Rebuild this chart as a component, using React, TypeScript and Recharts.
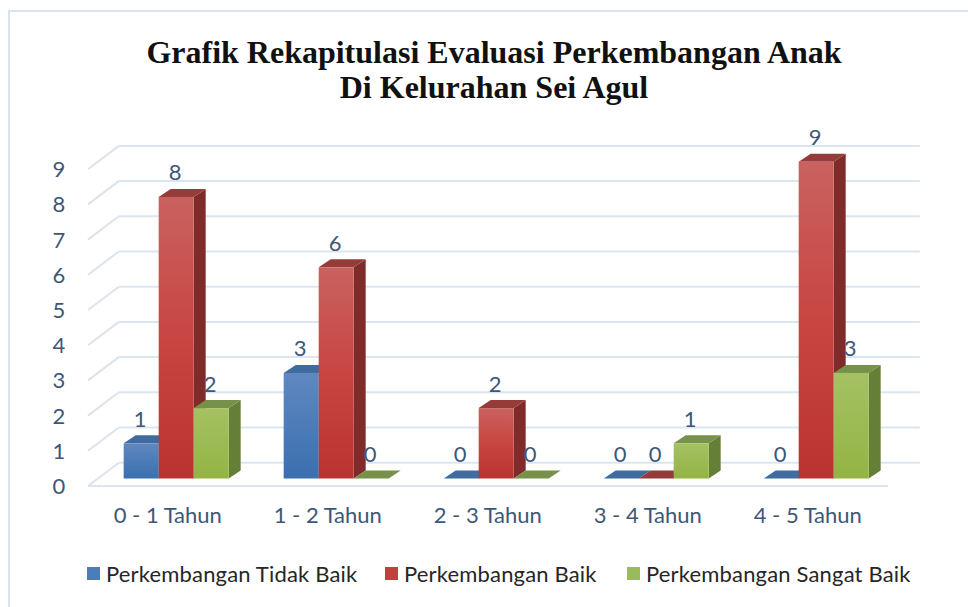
import { BarChart, Bar, XAxis, YAxis, CartesianGrid, LabelList, Legend } from 'recharts';

const categories = ['0 - 1 Tahun', '1 - 2 Tahun', '2 - 3 Tahun', '3 - 4 Tahun', '4 - 5 Tahun'];
const tidakBaik = [1, 3, 0, 0, 0];
const baik = [8, 6, 2, 0, 9];
const sangatBaik = [2, 0, 0, 1, 3];
const yTicks = [0, 1, 2, 3, 4, 5, 6, 7, 8, 9];

const data = categories.map((name, i) => ({
  name,
  tidakBaik: tidakBaik[i],
  baik: baik[i],
  sangatBaik: sangatBaik[i],
}));

const FONT = 'Lato, sans-serif';
const TEXT = '#3c5878';
const GRID = '#dce6f1';
const DX = 12;
const DY = 8;

const paint = {
  blue: { top: '#406b9e', side: '#355c8a', from: '#6088c0', to: '#3a6fb0', legend: '#4a7ebb' },
  red: { top: '#953c3a', side: '#7f2b2a', from: '#c9625f', to: '#b93431', legend: '#c0403d' },
  green: { top: '#76914a', side: '#667f36', from: '#a5c163', to: '#93b443', legend: '#9bbb59' },
};

// front face + top + side, so the bars read as a 3d column
const box3d = (c: typeof paint.blue, id: string) => (props: any) => {
  const { x, y, width, height } = props;
  const r = x + width;
  const b = y + height;
  return (
    <g>
      <polygon points={`${r},${y} ${r + DX},${y - DY} ${r + DX},${b - DY} ${r},${b}`} fill={c.side} />
      <polygon points={`${x},${y} ${x + DX},${y - DY} ${r + DX},${y - DY} ${r},${y}`} fill={c.top} />
      {height > 0 && <rect x={x} y={y} width={width} height={height} fill={`url(#${id})`} />}
    </g>
  );
};

const gridLine = (props: any) => {
  const { x1, x2, y1, index } = props;
  return (
    <g key={`g-${index}`}>
      <line x1={x1 - 8.8} y1={y1 + 7.5} x2={x1 + 22} y2={y1 - 15.8} stroke="#dde3ea" strokeWidth={2} />
      <line x1={x1 + 22} y1={y1 - 15.8} x2={x2 + 23} y2={y1 - 15.8} stroke={GRID} strokeWidth={2} />
      {y1 > 470 ? (
        <line x1={x1 - 8.8} y1={y1 + 7.5} x2={x2 - 8.8} y2={y1 + 7.5} stroke={GRID} strokeWidth={2} />
      ) : null}
    </g>
  );
};

const valueLabel = (props: any) => {
  const { x, y, width, value } = props;
  return (
    <text x={x + width / 2 - 1} y={y - 25} textAnchor="middle" dominantBaseline="central" fontFamily={FONT} fontSize={22} fill={TEXT}>
      {value}
    </text>
  );
};

const legendItems = [
  { label: 'Perkembangan Tidak Baik', color: paint.blue.legend, left: 87 },
  { label: 'Perkembangan Baik', color: paint.red.legend, left: 385 },
  { label: 'Perkembangan Sangat Baik', color: paint.green.legend, left: 627 },
];

const legendContent = () => (
  <div style={{ position: 'relative', height: 30 }}>
    {legendItems.map((it) => (
      <div key={it.label} style={{ position: 'absolute', left: it.left, top: 0, display: 'flex', alignItems: 'center', height: 30, whiteSpace: 'nowrap' }}>
        <span style={{ width: 13, height: 13, background: it.color, marginRight: 6, display: 'inline-block' }} />
        <span style={{ fontFamily: FONT, fontSize: 22, color: '#262626', letterSpacing: 0.17 }}>{it.label}</span>
      </div>
    ))}
  </div>
);

export default function App() {
  return (
    <div style={{ position: 'absolute', left: 0, top: 0, width: 968, height: 607, background: '#fff', overflow: 'hidden' }}>
      <div style={{ position: 'absolute', left: 8, top: 10, right: -4, bottom: -4, borderTop: '2px solid #d6e4f2', borderLeft: '2px solid #d6e4f2' }} />
      <div
        style={{
          position: 'absolute',
          left: 0,
          width: 988,
          top: 35,
          textAlign: 'center',
          fontFamily: '"Liberation Serif", serif',
          fontWeight: 700,
          fontSize: 32,
          lineHeight: '35px',
          color: '#111',
        }}
      >
        Grafik Rekapitulasi Evaluasi Perkembangan Anak
        <br />
        Di Kelurahan Sei Agul
      </div>
      <BarChart
        width={968}
        height={607}
        data={data}
        margin={{ top: 161.7, right: 71.2, bottom: 68.5, left: 36.8 }}
        barCategoryGap="16.8%"
        barGap={0}
        style={{ position: 'absolute', left: 0, top: 0 }}
      >
        <defs>
          <linearGradient id="gBlue" x1="0" y1="0" x2="0" y2="1">
            <stop offset="0%" stopColor={paint.blue.from} />
            <stop offset="100%" stopColor={paint.blue.to} />
          </linearGradient>
          <linearGradient id="gRed" x1="0" y1="0" x2="0" y2="1">
            <stop offset="0%" stopColor={paint.red.from} />
            <stop offset="50%" stopColor="#c84542" />
            <stop offset="100%" stopColor={paint.red.to} />
          </linearGradient>
          <linearGradient id="gGreen" x1="0" y1="0" x2="0" y2="1">
            <stop offset="0%" stopColor={paint.green.from} />
            <stop offset="100%" stopColor={paint.green.to} />
          </linearGradient>
        </defs>
        <CartesianGrid vertical={false} horizontal={gridLine} />
        <XAxis
          dataKey="name"
          axisLine={false}
          tickLine={false}
          interval={0}
          dx={-9}
          dy={21}
          tick={{ fontFamily: FONT, fontSize: 22, fill: TEXT }}
        />
        <YAxis
          domain={[0, 9]}
          ticks={yTicks}
          axisLine={false}
          tickLine={false}
          width={60}
          tick={(p: any) => (
            <text x={59} y={p.y + 7} textAnchor="middle" dominantBaseline="central" fontFamily={FONT} fontSize={22} fill={TEXT}>
              {p.payload.value}
            </text>
          )}
        />
        <Legend content={legendContent} wrapperStyle={{ position: 'absolute', left: 0, top: 558, width: 968 }} />
        <Bar dataKey="tidakBaik" isAnimationActive={false} shape={box3d(paint.blue, 'gBlue')}>
          <LabelList dataKey="tidakBaik" content={valueLabel} />
        </Bar>
        <Bar dataKey="baik" isAnimationActive={false} shape={box3d(paint.red, 'gRed')}>
          <LabelList dataKey="baik" content={valueLabel} />
        </Bar>
        <Bar dataKey="sangatBaik" isAnimationActive={false} shape={box3d(paint.green, 'gGreen')}>
          <LabelList dataKey="sangatBaik" content={valueLabel} />
        </Bar>
      </BarChart>
    </div>
  );
}
